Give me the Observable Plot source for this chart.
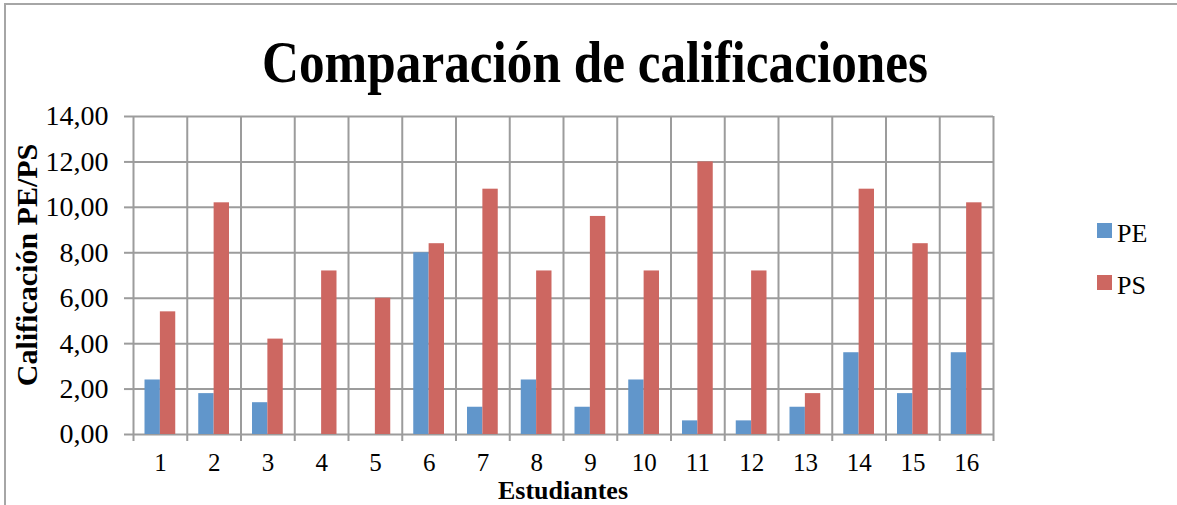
<!DOCTYPE html>
<html>
<head>
<meta charset="utf-8">
<script src="https://cdn.jsdelivr.net/npm/d3@7"></script>
<script src="https://cdn.jsdelivr.net/npm/@observablehq/plot@0.6"></script>
<style>
  html, body { margin: 0; padding: 0; background: #fff; overflow: hidden; }
  #wrap { position: relative; width: 1177px; height: 505px; overflow: hidden; }
  #border { position: absolute; left: 4px; top: 3px; width: 1300px; height: 600px;
            border-top: 2px solid #a6a6a6; border-left: 2px solid #a6a6a6; pointer-events: none; z-index: 2; }
</style>
</head>
<body>
<div id="wrap"><div id="border"></div></div>
<script>
// ---- data ----
const title = "Comparación de calificaciones";
const yTitle = "Calificación PE/PS";
const xTitle = "Estudiantes";
const students = ["1","2","3","4","5","6","7","8","9","10","11","12","13","14","15","16"];
const series = ["PE", "PS"];
const pe = [2.4, 1.8, 1.4, 0, 0, 8.0, 1.2, 2.4, 1.2, 2.4, 0.6, 0.6, 1.2, 3.6, 1.8, 3.6];
const ps = [5.4, 10.2, 4.2, 7.2, 6.0, 8.4, 10.8, 7.2, 9.6, 7.2, 12.0, 7.2, 1.8, 10.8, 8.4, 10.2];
const yTicks = [0, 2, 4, 6, 8, 10, 12, 14];
const colors = ["#6196CB", "#CD6761"];

// ---- layout ----
const W = 1177, H = 505;
const mL = 133, mR = 184, mT = 116, mB = 71;
const bw = (W - mL - mR) / students.length;   // band width
const gap = bw * 0.214;                        // outer gap of each bar group
const gridColor = "#9c9c9c";
const serif = "'Liberation Serif', serif";

const rows = students.flatMap((s, i) => [
  {student: s, series: series[0], value: pe[i]},
  {student: s, series: series[1], value: ps[i]}
]);

const plot = Plot.plot({
  width: W, height: H,
  marginLeft: mL, marginRight: mR, marginTop: mT, marginBottom: mB,
  style: {fontFamily: serif, fontSize: "26px", color: "black", background: "white", overflow: "visible"},
  x: {type: "band", domain: students, padding: 0, round: false, range: [mL, W - mR], label: null},
  y: {domain: [0, 14], range: [H - mB, mT], label: null},
  color: {domain: series, range: colors},
  marks: [
    // horizontal gridlines
    Plot.ruleY(yTicks, {stroke: gridColor, strokeWidth: 2}),
    // vertical gridlines at category boundaries (with short tick below the axis)
    Plot.ruleX(students, {x: d => d, y1: -0.31, y2: 14, dx: -bw / 2, stroke: gridColor, strokeWidth: 2}),
    Plot.ruleX(students.slice(-1), {x: d => d, y1: -0.31, y2: 14, dx: bw / 2, stroke: gridColor, strokeWidth: 2}),
    // bars
    Plot.barY(rows.filter(d => d.series === series[0]), {x: "student", y: "value", fill: "series", insetLeft: gap, insetRight: bw / 2}),
    Plot.barY(rows.filter(d => d.series === series[1]), {x: "student", y: "value", fill: "series", insetLeft: bw / 2, insetRight: gap}),
    // axes
    Plot.axisY({ticks: yTicks, tickSize: 9, tickPadding: 16, stroke: gridColor, strokeWidth: 2, fill: "black",
                fontSize: 28, tickFormat: d => d.toFixed(2).replace(".", ","), label: null}),
    Plot.axisX({tickSize: 0, tickPadding: 19, fontSize: 25, fill: "black", label: null})
  ]
});

document.getElementById("wrap").appendChild(plot);
plot.style.position = "absolute";
plot.style.left = "0px";
plot.style.top = "0px";

const svg = d3.select(plot);

// title
svg.append("text")
  .attr("x", 262).attr("y", 82)
  .attr("text-anchor", "start")
  .attr("textLength", 666).attr("lengthAdjust", "spacingAndGlyphs")
  .style("font-family", serif).style("font-weight", "bold").style("font-size", "60px")
  .attr("fill", "black")
  .text(title);

// y axis title
svg.append("text")
  .attr("transform", "translate(37,265) rotate(-90)")
  .attr("text-anchor", "middle")
  .style("font-family", serif).style("font-weight", "bold").style("font-size", "30px")
  .attr("fill", "black")
  .text(yTitle);

// x axis title
svg.append("text")
  .attr("x", mL + (W - mL - mR) / 2).attr("y", 499)
  .attr("text-anchor", "middle")
  .style("font-family", serif).style("font-weight", "bold").style("font-size", "26px")
  .attr("fill", "black")
  .text(xTitle);

// legend
const colorScale = plot.scale("color");
const legendY = [223, 275];
series.forEach((s, i) => {
  svg.append("rect").attr("x", 1097).attr("y", legendY[i]).attr("width", 15).attr("height", 15)
    .attr("fill", colorScale.apply(s));
  svg.append("text").attr("x", 1117).attr("y", legendY[i] + 19)
    .attr("text-anchor", "start")
    .style("font-family", serif).style("font-size", "26px")
    .attr("fill", "black").text(s);
});
</script>
</body>
</html>
